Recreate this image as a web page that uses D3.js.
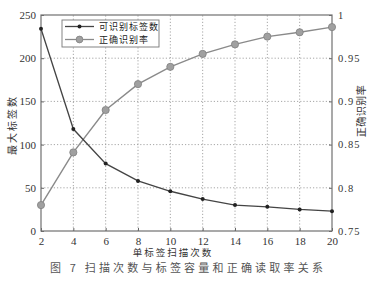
<!DOCTYPE html>
<html>
<head>
<meta charset="utf-8">
<script src="https://cdn.jsdelivr.net/npm/d3@7"></script>
<style>
  body { margin: 0; background: #fff; }
  svg { display: block; }
</style>
</head>
<body>
<div id="chart"></div>
<script>
// scan counts on x, two series: tag count (left axis) and accuracy (right axis)
var scans = [2, 4, 6, 8, 10, 12, 14, 16, 18, 20];
var tagCount = [234, 118, 78, 58, 46, 37, 30, 28, 25, 23];
var accuracy = [0.780, 0.841, 0.890, 0.920, 0.940, 0.955, 0.966, 0.975, 0.980, 0.986];
var xTicks = [2, 4, 6, 8, 10, 12, 14, 16, 18, 20];
var leftTicks = [0, 50, 100, 150, 200, 250];
var rightTicks = [0.75, 0.8, 0.85, 0.9, 0.95, 1];
var seriesNames = ["可识别标签数", "正确识别率"];

var width = 377, height = 282;
var margin = {top: 15, right: 45, bottom: 51, left: 41};

var svg = d3.select("#chart").append("svg")
    .attr("width", width)
    .attr("height", height);

var x = d3.scaleLinear().domain([2, 20]).range([margin.left, width - margin.right]);
var yL = d3.scaleLinear().domain([0, 250]).range([height - margin.bottom, margin.top]);
var yR = d3.scaleLinear().domain([0.75, 1]).range([height - margin.bottom, margin.top]);

var serif = "'Liberation Serif', 'DejaVu Serif', serif";
var cjk = "'Noto Sans CJK SC', sans-serif";

// grid
var grid = svg.append("g").attr("class", "grid")
    .attr("stroke", "#8f8f8f")
    .attr("stroke-width", 0.8)
    .attr("stroke-dasharray", "1.2,2");
grid.selectAll("line.gx")
    .data(xTicks.slice(1, -1))
    .join("line")
    .attr("x1", d => x(d)).attr("x2", d => x(d))
    .attr("y1", yL(0)).attr("y2", yL(250));
grid.selectAll("line.gy")
    .data(leftTicks.slice(1, -1))
    .join("line")
    .attr("class", "gy")
    .attr("x1", x(2)).attr("x2", x(20))
    .attr("y1", d => yL(d)).attr("y2", d => yL(d));

// axes (ticks pointing inward)
function styleAxis(g) {
    g.select(".domain").remove();
    g.selectAll(".tick line").attr("stroke", "#666");
    g.selectAll(".tick text")
        .attr("fill", "#333")
        .style("font-family", serif)
        .style("font-size", "11px");
}

svg.append("g")
    .attr("transform", "translate(0," + yL(0) + ")")
    .call(d3.axisBottom(x).tickValues(xTicks).tickSize(-3).tickPadding(6).tickFormat(d3.format("d")))
    .call(styleAxis);

svg.append("g")
    .attr("transform", "translate(" + x(2) + ",0)")
    .call(d3.axisLeft(yL).tickValues(leftTicks).tickSize(-3).tickPadding(5))
    .call(styleAxis);

svg.append("g")
    .attr("transform", "translate(" + x(20) + ",0)")
    .call(d3.axisRight(yR).tickValues(rightTicks).tickSize(-3).tickPadding(6)
        .tickFormat(d => d === 1 ? "1" : d3.format(".2~f")(d)))
    .call(styleAxis)
    .call(g => g.selectAll(".tick text").style("letter-spacing", "1px").style("font-size", "10.5px"));

// frame
svg.append("rect")
    .attr("x", x(2)).attr("y", yL(250))
    .attr("width", x(20) - x(2)).attr("height", yL(0) - yL(250))
    .attr("fill", "none")
    .attr("stroke", "#707070")
    .attr("stroke-width", 1.2);

// series 2: accuracy (right axis)
var line2 = d3.line().x((d, i) => x(scans[i])).y(d => yR(d));
svg.append("path")
    .datum(accuracy)
    .attr("d", line2)
    .attr("fill", "none")
    .attr("stroke", "#8a8a8a")
    .attr("stroke-width", 1.4);
svg.selectAll("circle.acc")
    .data(accuracy)
    .join("circle")
    .attr("class", "acc")
    .attr("cx", (d, i) => x(scans[i]))
    .attr("cy", d => yR(d))
    .attr("r", 3.6)
    .attr("fill", "#a0a0a0")
    .attr("stroke", "#808080")
    .attr("stroke-width", 0.8);

// series 1: tag count (left axis)
var line1 = d3.line().x((d, i) => x(scans[i])).y(d => yL(d));
svg.append("path")
    .datum(tagCount)
    .attr("d", line1)
    .attr("fill", "none")
    .attr("stroke", "#444")
    .attr("stroke-width", 1.3);
svg.selectAll("circle.tag")
    .data(tagCount)
    .join("circle")
    .attr("class", "tag")
    .attr("cx", (d, i) => x(scans[i]))
    .attr("cy", d => yL(d))
    .attr("r", 2)
    .attr("fill", "#222");

// legend
var lg = svg.append("g").attr("transform", "translate(62,20)");
lg.append("rect")
    .attr("width", 97).attr("height", 27)
    .attr("fill", "#fff")
    .attr("stroke", "#777")
    .attr("stroke-width", 0.9);
var rows = lg.selectAll("g.row")
    .data(seriesNames)
    .join("g")
    .attr("transform", (d, i) => "translate(0," + (6.5 + i * 13) + ")");
rows.append("line")
    .attr("x1", 3).attr("x2", 32)
    .attr("stroke", (d, i) => i === 0 ? "#444" : "#8a8a8a")
    .attr("stroke-width", 1.3);
rows.append("circle")
    .attr("cx", 17.5)
    .attr("r", (d, i) => i === 0 ? 2 : 3.4)
    .attr("fill", (d, i) => i === 0 ? "#222" : "#a0a0a0")
    .attr("stroke", (d, i) => i === 0 ? "none" : "#808080")
    .attr("stroke-width", 0.8);
rows.append("text")
    .attr("x", 37)
    .attr("dy", "0.35em")
    .text(d => d)
    .style("font-family", cjk)
    .style("font-size", "9px")
    .style("letter-spacing", "1px")
    .attr("fill", "#222");

// axis titles
svg.append("text")
    .attr("transform", "translate(12,125) rotate(-90)")
    .attr("text-anchor", "middle")
    .attr("dy", "0.35em")
    .text("最大标签数")
    .style("font-family", cjk)
    .style("font-size", "10px")
    .style("letter-spacing", "2px")
    .attr("fill", "#333");

svg.append("text")
    .attr("transform", "translate(361,111) rotate(-90)")
    .attr("text-anchor", "middle")
    .attr("dy", "0.35em")
    .text("正确识别率")
    .style("font-family", cjk)
    .style("font-size", "10px")
    .style("letter-spacing", "0.5px")
    .attr("fill", "#333");

svg.append("text")
    .attr("x", 173)
    .attr("y", 253)
    .attr("text-anchor", "middle")
    .attr("dy", "0.35em")
    .text("单标签扫描次数")
    .style("font-family", cjk)
    .style("font-size", "9.5px")
    .style("letter-spacing", "2px")
    .attr("fill", "#333");

// caption
svg.append("text")
    .attr("x", 188)
    .attr("y", 268)
    .attr("text-anchor", "middle")
    .attr("dy", "0.35em")
    .text("图 7  扫描次数与标签容量和正确读取率关系")
    .style("font-family", cjk)
    .style("font-size", "11px")
    .style("letter-spacing", "3.2px")
    .attr("fill", "#555");
</script>
</body>
</html>
